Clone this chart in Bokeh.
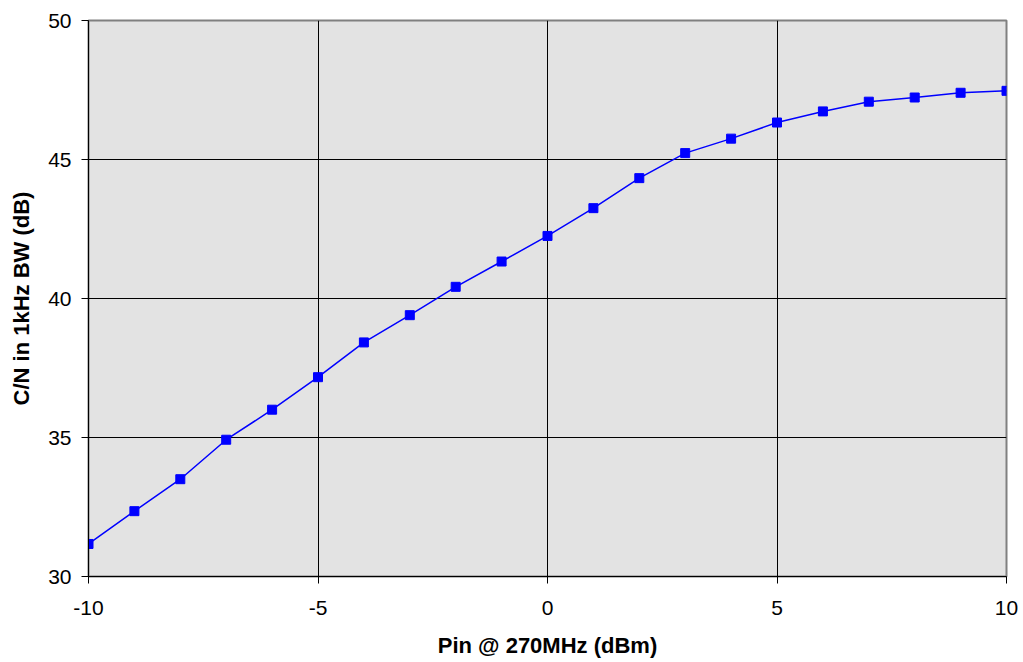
from bokeh.plotting import figure
from bokeh.models import ColumnDataSource, FixedTicker, Range1d
from bokeh.embed import file_html
from bokeh.resources import INLINE

# Input power sweep (dBm) and measured carrier-to-noise ratio (dB, 1 kHz BW)
pin_dbm = [-10, -9, -8, -7, -6, -5, -4, -3, -2, -1, 0, 1, 2, 3, 4, 5, 6, 7, 8, 9, 10]
cn_db = [31.17, 32.35, 33.5, 34.92, 36.0, 37.17, 38.42, 39.4, 40.42, 41.33, 42.25,
         43.25, 44.33, 45.23, 45.75, 46.33, 46.73, 47.08, 47.23, 47.4, 47.47]

x_ticks = [-10, -5, 0, 5, 10]
x_tick_labels = ["-10", "-5", "0", "5", "10"]
y_ticks = [30, 35, 40, 45, 50]

src = ColumnDataSource(data=dict(x=pin_dbm, y=cn_db))

p = figure(width=1023, height=662, output_backend="svg", toolbar_location=None,
           x_range=Range1d(-10, 10), y_range=Range1d(30, 50),
           min_border_left=88, min_border_right=17, min_border_top=20, min_border_bottom=86)

p.background_fill_color = "#e3e3e3"
p.border_fill_color = "white"
p.outline_line_color = "#808080"
p.outline_line_width = 2

p.line("x", "y", source=src, line_color="#0000ff", line_width=1.5)
p.scatter("x", "y", source=src, marker="square", size=9, fill_color="#0000ff",
          line_color="#0000ff")

font = "Liberation Sans"
for ax in (p.xaxis[0], p.yaxis[0]):
    ax.axis_line_color = "black"
    ax.axis_line_width = 1
    ax.major_tick_line_color = "black"
    ax.major_tick_out = 7
    ax.major_tick_in = 0
    ax.minor_tick_line_color = None
    ax.major_label_text_font = font
    ax.major_label_text_font_size = "21px"
    ax.major_label_text_color = "black"
    ax.axis_label_text_font = font
    ax.axis_label_text_font_size = "22px"
    ax.axis_label_text_font_style = "bold"
    ax.axis_label_text_color = "black"

p.xaxis.ticker = FixedTicker(ticks=x_ticks)
p.xaxis.major_label_overrides = {t: s for t, s in zip(x_ticks, x_tick_labels)}
p.yaxis.ticker = FixedTicker(ticks=y_ticks)
p.xaxis.axis_label = "Pin @ 270MHz (dBm)"
p.yaxis.axis_label = "C/N in 1kHz BW (dB)"
p.xaxis.major_label_standoff = 17
p.yaxis.major_label_standoff = 10
p.xaxis.axis_label_standoff = 15
p.yaxis.axis_label_standoff = 11

p.grid.grid_line_color = "black"
p.grid.grid_line_width = 1
p.grid.grid_line_alpha = 1.0

open("out.html", "w").write(file_html(p, INLINE))
